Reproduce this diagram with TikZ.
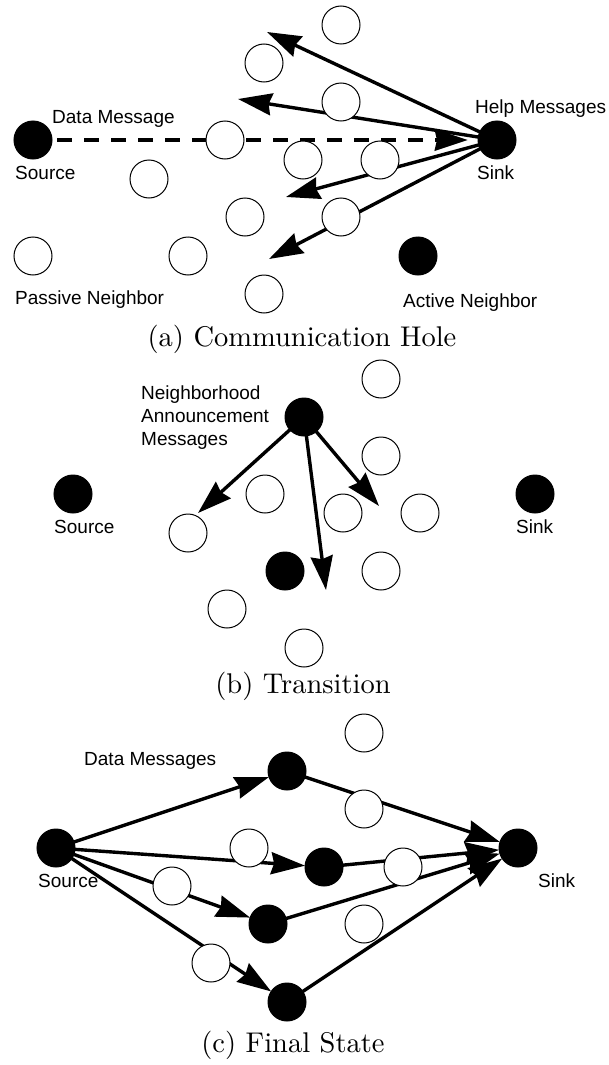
\documentclass[tikz,border=0pt]{standalone}
\usepackage{fontspec}
\newfontfamily\labfont{Liberation Sans}
\newfontfamily\capfont{lmroman10-regular}[Extension=.otf]
\usetikzlibrary{arrows.meta}
\pgfdeclarelayer{background}
\pgfsetlayers{background,main}
\tikzset{
 pn/.style={circle,draw,fill=white,line width=1pt,minimum size=38pt,inner sep=0pt,outer sep=0pt},
 an/.style={circle,draw,fill=black,line width=1pt,minimum size=38pt,inner sep=0pt,outer sep=0pt},
 lab/.style={font=\labfont\fontsize{19}{23}\selectfont,inner sep=0pt,anchor=base west},
 capt/.style={font=\capfont\fontsize{28.5}{32}\selectfont,inner sep=0pt,anchor=base},
 msg/.style={line width=3.4pt,-{Stealth[length=34pt,width=22pt,inset=3pt]}},
 dmsg/.style={line width=4.8pt,dash pattern=on 15pt off 12pt,-{Stealth[length=33pt,width=21pt,inset=2pt]}},
}
\begin{document}
\begin{tikzpicture}[x=1pt,y=-1pt]
\useasboundingbox (0,0) rectangle (608,1065);
% ---------- (a) Communication Hole ----------
\node[an] (srcA) at (33,140) {};
\node[an] (sinkA) at (497,140) {};
\node[pn] (a1) at (341,25) {};
\node[pn] (a2) at (264,63) {};
\node[pn] (a3) at (341,102) {};
\node[pn] (a4) at (225,140) {};
\node[pn] (a5) at (303,160) {};
\node[pn] (a6) at (380,160) {};
\node[pn] (a7) at (149,179) {};
\node[pn] (a8) at (245,217) {};
\node[pn] (a9) at (341,217) {};
\node[pn] (a10) at (33,256) {};
\node[pn] (a11) at (188,256) {};
\node[pn] (a12) at (264,294) {};
\node[an] (a13) at (418,256) {};
\coordinate (tA1) at (267,32);
\coordinate (tA2) at (238,99);
\coordinate (tA3) at (286,197);
\coordinate (tA4) at (269,259);
\coordinate (tAd) at (468,140);
\begin{pgfonlayer}{background}
\draw[dmsg] ([xshift=5pt]srcA.east) -- (tAd);
\draw[msg] (sinkA) -- (tA1);
\draw[msg] (sinkA) -- (tA2);
\draw[msg] (sinkA) -- (tA3);
\draw[msg] (sinkA) -- (tA4);
\end{pgfonlayer}
\node[lab] (lDataA) at (52,123) {Data Message};
\node[lab] (lSrcA) at (15,179) {Source};
\node[lab] (lHelp) at (475,113) {Help Messages};
\node[lab] (lSinkA) at (477,179) {Sink};
\node[lab] (lPass) at (15,304) {Passive Neighbor};
\node[lab] (lAct) at (403,307) {Active Neighbor};
\node[capt] (capA) at (302,346) {(a) Communication Hole};
% ---------- (b) Transition ----------
\node[an] (nb) at (304,417) {};
\node[an] (srcB) at (73,494) {};
\node[an] (sinkB) at (535,494) {};
\node[an] (b0) at (285,571) {};
\node[pn] (b1) at (381,379) {};
\node[pn] (b2) at (381,456) {};
\node[pn] (b3) at (265,494) {};
\node[pn] (b4) at (188,533) {};
\node[pn] (b5) at (343,513) {};
\node[pn] (b6) at (420,513) {};
\node[pn] (b7) at (381,571) {};
\node[pn] (b8) at (227,609) {};
\node[pn] (b9) at (304,648) {};
\coordinate (tB1) at (198,513);
\coordinate (tB2) at (326,590);
\coordinate (tB3) at (379,506);
\begin{pgfonlayer}{background}
\draw[msg] (nb) -- (tB1);
\draw[msg] (nb) -- (tB2);
\draw[msg] (nb) -- (tB3);
\end{pgfonlayer}
\node[lab] (lN1) at (141,399) {Neighborhood};
\node[lab] (lN2) at (141,422) {Announcement};
\node[lab] (lN3) at (141,445) {Messages};
\node[lab] (lSrcB) at (54,533) {Source};
\node[lab] (lSinkB) at (516,533) {Sink};
\node[capt] (capB) at (303,693) {(b) Transition};
% ---------- (c) Final State ----------
\node[an] (srcC) at (56,848) {};
\node[an] (sinkC) at (518,848) {};
\node[an] (f1) at (287,771) {};
\node[an] (f2) at (324,867) {};
\node[an] (f3) at (268,924) {};
\node[an] (f4) at (287,1002) {};
\node[pn] (c1) at (364,733) {};
\node[pn] (c2) at (364,809) {};
\node[pn] (c3) at (249,848) {};
\node[pn] (c4) at (403,867) {};
\node[pn] (c5) at (172,886) {};
\node[pn] (c6) at (364,924) {};
\node[pn] (c7) at (211,963) {};
\begin{pgfonlayer}{background}
\draw[msg] (srcC) -- (f1);
\draw[msg] (srcC) -- (f2);
\draw[msg] (srcC) -- (f3);
\draw[msg] (srcC) -- (f4);
\draw[msg] (f1) -- (sinkC);
\draw[msg] (f2) -- (sinkC);
\draw[msg] (f3) -- (sinkC);
\draw[msg] (f4) -- (sinkC);
\end{pgfonlayer}
\node[lab] (lDataC) at (84,765) {Data Messages};
\node[lab] (lSrcC) at (38,887) {Source};
\node[lab] (lSinkC) at (538,887) {Sink};
\node[capt] (capC) at (293,1052) {(c) Final State};
\end{tikzpicture}
\end{document}
